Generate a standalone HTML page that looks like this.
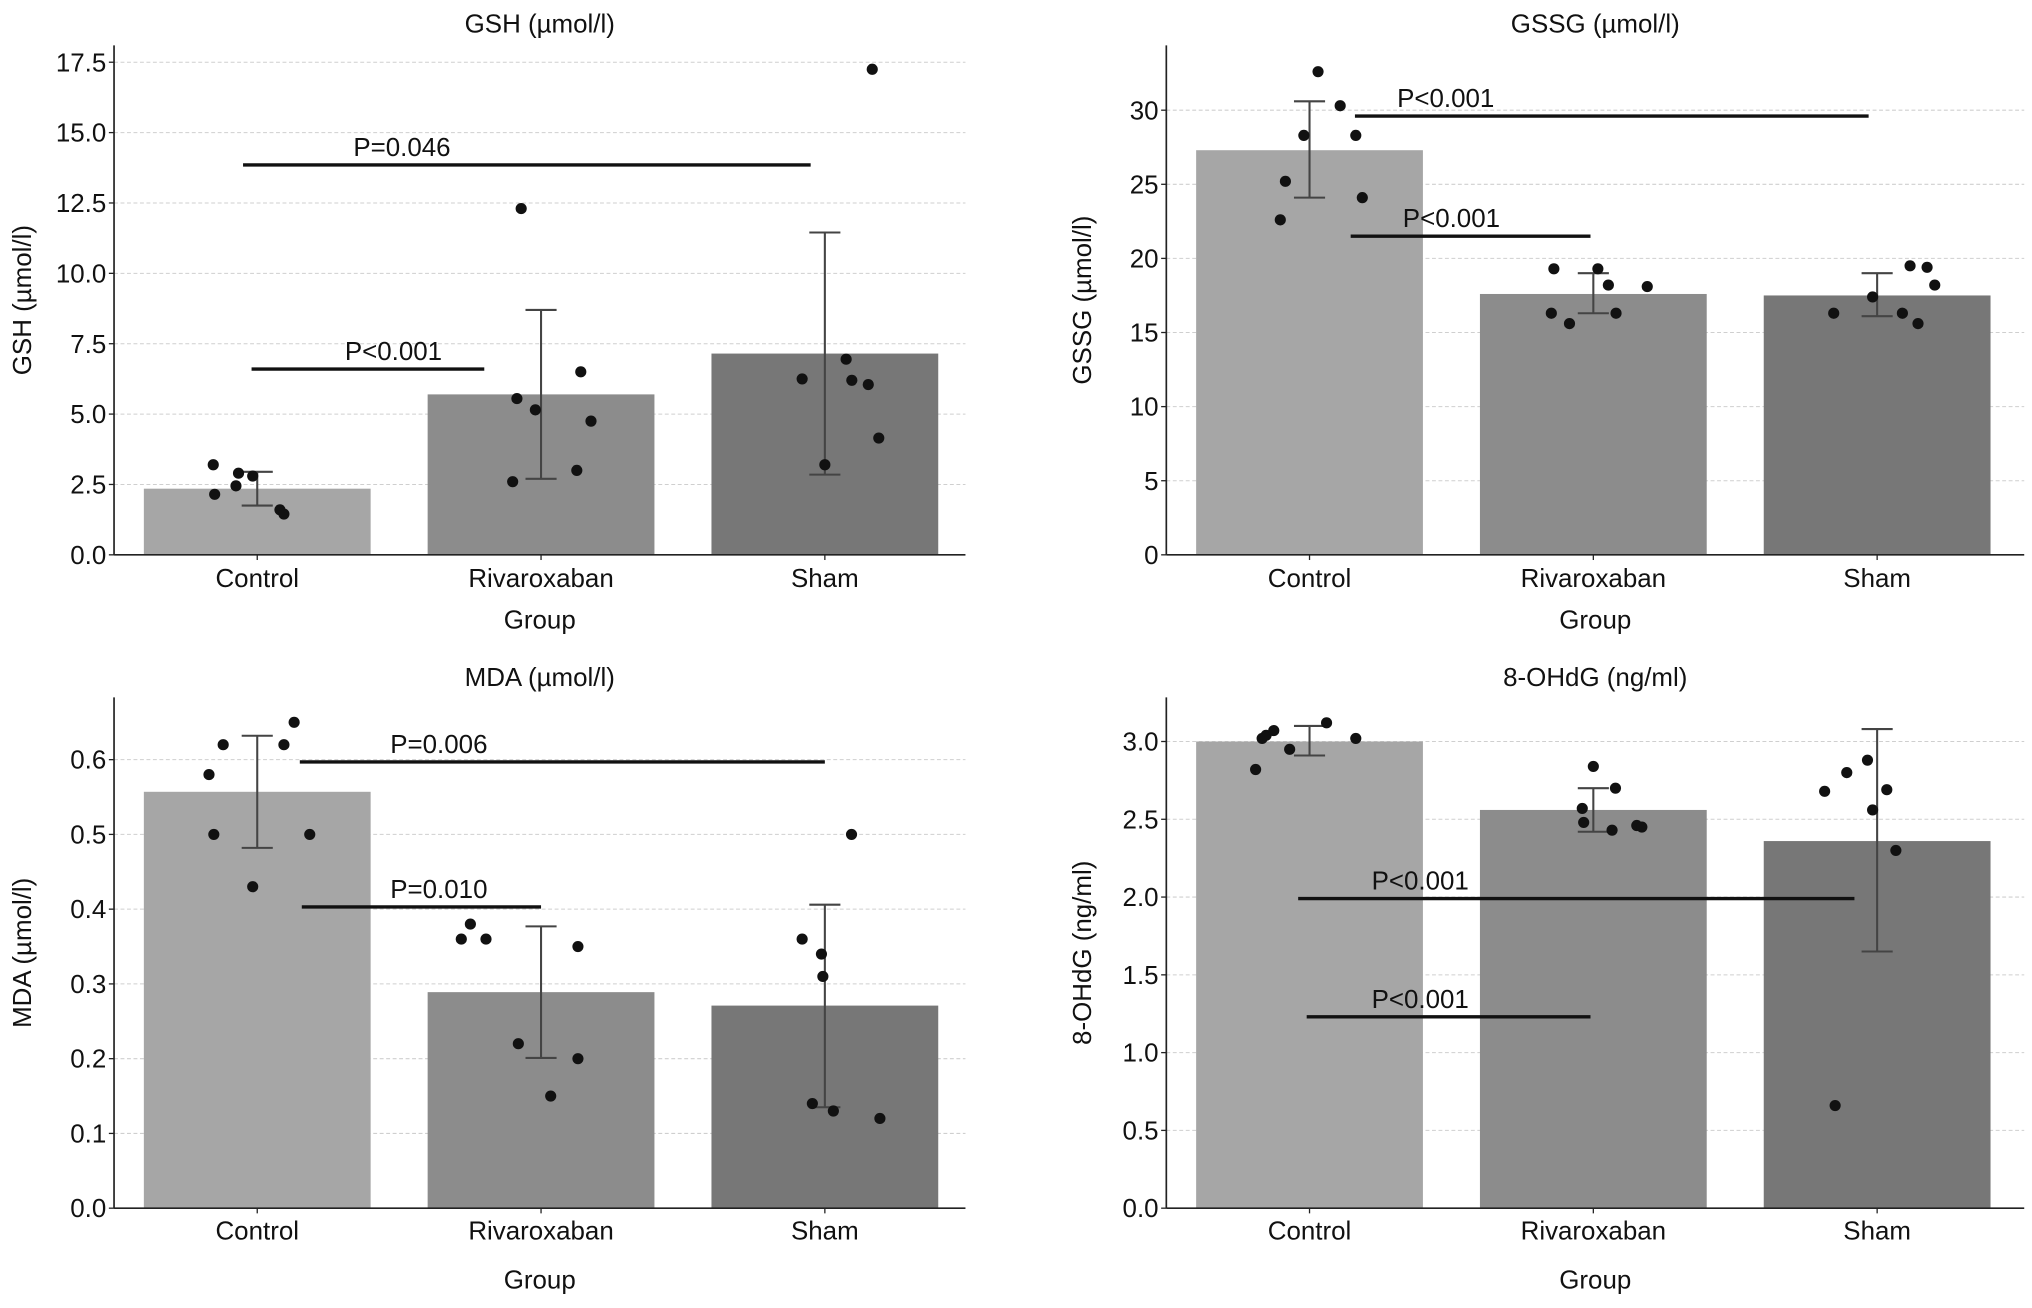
<!DOCTYPE html>
<html><head><meta charset="utf-8"><style>
html,body{margin:0;padding:0;background:#fff;}
svg{display:block;font-family:"Liberation Sans",sans-serif;}
</style></head><body>
<svg id="fig" width="2032" height="1308" viewBox="0 0 1568 1009" preserveAspectRatio="none"></svg>
<script>
const categories = ["Control","Rivaroxaban","Sham"];
const gshMeans = [2.35,5.7,7.15];
const gshErrLo = [1.75,2.7,2.85];
const gshErrHi = [2.95,8.7,11.45];
const gshPts = [[3.2,2.15,2.9,2.45,2.8,1.6,1.45],[12.3,5.55,5.15,2.6,6.5,4.75,3.0],[6.25,3.2,6.95,6.2,6.05,4.15,17.25]];
const gshTicks = ["0.0","2.5","5.0","7.5","10.0","12.5","15.0","17.5"];
const gssgMeans = [27.3,17.6,17.5];
const gssgErrLo = [24.1,16.3,16.1];
const gssgErrHi = [30.6,19.0,19.0];
const gssgPts = [[32.6,25.2,28.3,30.3,28.3,24.1,22.6],[19.3,16.3,15.6,19.3,18.2,16.3,18.1],[16.3,17.4,19.5,19.4,18.2,16.3,15.6]];
const gssgTicks = ["0","5","10","15","20","25","30"];
const mdaMeans = [0.557,0.289,0.271];
const mdaErrLo = [0.482,0.201,0.135];
const mdaErrHi = [0.632,0.377,0.406];
const mdaPts = [[0.58,0.62,0.50,0.43,0.62,0.65,0.50],[0.38,0.36,0.36,0.22,0.15,0.20,0.35],[0.36,0.34,0.31,0.14,0.13,0.12,0.50]];
const mdaTicks = ["0.0","0.1","0.2","0.3","0.4","0.5","0.6"];
const ohdgMeans = [3.0,2.56,2.36];
const ohdgErrLo = [2.91,2.42,1.65];
const ohdgErrHi = [3.10,2.70,3.08];
const ohdgPts = [[2.82,3.02,3.04,3.07,3.12,2.95,3.02],[2.84,2.70,2.57,2.48,2.43,2.46,2.45],[2.68,2.80,2.88,2.69,2.56,2.30,0.66]];
const ohdgTicks = ["0.0","0.5","1.0","1.5","2.0","2.5","3.0"];
// jitter offsets (category units)
const gshJit = [[-0.155,-0.15,-0.066,-0.075,-0.016,0.08,0.094],[-0.07,-0.085,-0.02,-0.1,0.14,0.176,0.126],[-0.08,0,0.075,0.095,0.153,0.19,0.167]];
const gssgJit = [[0.03,-0.085,-0.02,0.108,0.163,0.186,-0.103],[-0.139,-0.148,-0.084,0.016,0.053,0.08,0.19],[-0.153,-0.016,0.116,0.176,0.203,0.089,0.144]];
const mdaJit = [[-0.17,-0.12,-0.153,-0.016,0.094,0.13,0.185],[-0.249,-0.281,-0.194,-0.08,0.034,0.13,0.13],[-0.08,-0.012,-0.007,-0.044,0.03,0.194,0.094]];
const ohdgJit = [[-0.19,-0.167,-0.153,-0.126,0.06,-0.07,0.163],[0,0.078,-0.039,-0.034,0.066,0.153,0.171],[-0.185,-0.107,-0.034,0.034,-0.016,0.066,-0.148]];

const panels = [
 {name:"gsh",title:"GSH (µmol/l)",ylab:"GSH (µmol/l)",L:88,R:745,T:35,B:428,step:2.5,ticks:gshTicks,means:gshMeans,lo:gshErrLo,hi:gshErrHi,pts:gshPts,jit:gshJit,
  sig:[{t:"P=0.046",y:13.85,a:-0.05,b:1.95,tx:0.51},{t:"P<0.001",y:6.6,a:-0.02,b:0.8,tx:0.48}],ylx:18,titleY:25,xlY:453,gY:485,topPix:48},
 {name:"gssg",title:"GSSG (µmol/l)",ylab:"GSSG (µmol/l)",L:900,R:1562,T:35,B:428,step:5,ticks:gssgTicks,means:gssgMeans,lo:gssgErrLo,hi:gssgErrHi,pts:gssgPts,jit:gssgJit,
  sig:[{t:"P<0.001",y:29.6,a:0.16,b:1.97,tx:0.48},{t:"P<0.001",y:21.5,a:0.145,b:0.99,tx:0.5}],ylx:836,titleY:25,xlY:453,gY:485,topPix:85},
 {name:"mda",title:"MDA (µmol/l)",ylab:"MDA (µmol/l)",L:88,R:745,T:538,B:932,step:0.1,ticks:mdaTicks,means:mdaMeans,lo:mdaErrLo,hi:mdaErrHi,pts:mdaPts,jit:mdaJit,
  sig:[{t:"P=0.006",y:0.597,a:0.15,b:2.0,tx:0.64},{t:"P=0.010",y:0.403,a:0.157,b:1.0,tx:0.64}],ylx:18,titleY:529,xlY:956,gY:994,topPix:586},
 {name:"ohdg",title:"8-OHdG (ng/ml)",ylab:"8-OHdG (ng/ml)",L:900,R:1562,T:538,B:932,step:0.5,ticks:ohdgTicks,means:ohdgMeans,lo:ohdgErrLo,hi:ohdgErrHi,pts:ohdgPts,jit:ohdgJit,
  sig:[{t:"P<0.001",y:1.99,a:-0.04,b:1.92,tx:0.39},{t:"P<0.001",y:1.23,a:-0.01,b:0.99,tx:0.39}],ylx:836,titleY:529,xlY:956,gY:994,topPix:572}
];
const NS="http://www.w3.org/2000/svg";
const svg=document.getElementById('fig');
const barColors=["#a6a6a6","#8c8c8c","#777777"];
function mk(tag,attrs,parent){const e=document.createElementNS(NS,tag);for(const k in attrs)e.setAttribute(k,attrs[k]);parent.appendChild(e);return e;}
panels.forEach(p=>{
 const g=mk('g',{},svg);
 
 
 const tickTopVal=p.step*(p.ticks.length-1);
 const y=v=>p.B-(v/tickTopVal)*(p.B-p.topPix);
 const cx=c=>p.L+110.5+c*219;
 p.ticks.forEach((t,i)=>{
  const v=i*p.step, yy=y(v);
  if(i>0){const gl=mk('line',{x1:p.L,x2:p.R,y1:yy,y2:yy,stroke:"#cfcfcf","stroke-width":0.8,"stroke-dasharray":"3,2"},g);
   
   }
  mk('line',{x1:p.L-4,x2:p.L,y1:yy,y2:yy,stroke:"#222","stroke-width":1},g);
  const tx=mk('text',{x:p.L-6,y:yy+7,"text-anchor":"end","font-size":20,fill:"#111"},g);
  tx.textContent=t;
  
  
 });
 categories.forEach((c,i)=>{
  const r=mk('rect',{x:cx(i)-87.5,y:y(p.means[i]),width:175,height:p.B-y(p.means[i]),fill:barColors[i]},g);
  
  
 });
 mk('line',{x1:p.L,x2:p.L,y1:p.T,y2:p.B,stroke:"#222","stroke-width":1.3},g);
 mk('line',{x1:p.L,x2:p.R,y1:p.B,y2:p.B,stroke:"#222","stroke-width":1.3},g);
 categories.forEach((c,i)=>{
  mk('line',{x1:cx(i),x2:cx(i),y1:p.B,y2:p.B+4,stroke:"#222","stroke-width":1},g);
  const t=mk('text',{x:cx(i),y:p.xlY,"text-anchor":"middle","font-size":20,fill:"#111"},g);
  t.textContent=c;
  
  
 });
 categories.forEach((c,i)=>{
  const x=cx(i);
  mk('line',{x1:x,x2:x,y1:y(p.lo[i]),y2:y(p.hi[i]),stroke:"#444","stroke-width":1.6},g);
  mk('line',{x1:x-12,x2:x+12,y1:y(p.lo[i]),y2:y(p.lo[i]),stroke:"#444","stroke-width":1.6},g);
  const cap=mk('line',{x1:x-12,x2:x+12,y1:y(p.hi[i]),y2:y(p.hi[i]),stroke:"#444","stroke-width":1.6},g);
  
  
 });
 p.pts.forEach((arr,i)=>arr.forEach((v,j)=>{
  const d=mk('circle',{cx:cx(i+p.jit[i][j]),cy:y(v),r:4.3,fill:"#111"},g);
  
  
 }));
 p.sig.forEach(s=>{
  const l=mk('line',{x1:cx(s.a),x2:cx(s.b),y1:y(s.y),y2:y(s.y),stroke:"#111","stroke-width":2.6},g);
  
  
  const t=mk('text',{x:cx(s.tx),y:y(s.y)-7,"text-anchor":"middle","font-size":20,fill:"#111"},g);
  t.textContent=s.t;
  
  
 });
 const ti=mk('text',{x:(p.L+p.R)/2,y:p.titleY,"text-anchor":"middle","font-size":20,fill:"#111"},g);
 ti.textContent=p.title;
 
 
 const gl=mk('text',{x:(p.L+p.R)/2,y:p.gY,"text-anchor":"middle","font-size":20,fill:"#111"},g);
 gl.textContent="Group";
 
 
 const ym=(p.T+p.B)/2;
 const yl=mk('text',{x:p.ylx+6,y:ym,"text-anchor":"middle","font-size":20,fill:"#111",transform:`rotate(-90 ${p.ylx+6} ${ym})`},g);
 yl.textContent=p.ylab;
 
 
});
</script>
</body></html>
